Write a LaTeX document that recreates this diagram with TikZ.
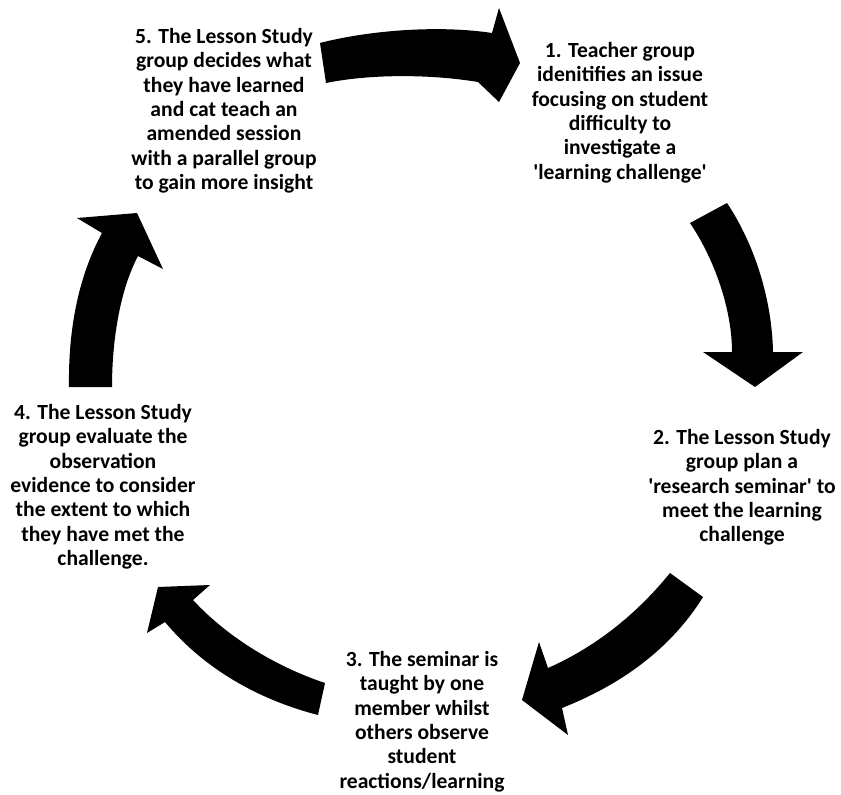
\documentclass[tikz,border=0pt]{standalone}
\usepackage{fontspec}
\setmainfont{Carlito}
\newcommand{\sq}{\textquotesingle}
\begin{document}
\begin{tikzpicture}[x=1pt,y=-1pt,
  step text/.style={anchor=north,align=center,inner sep=0pt,
    font=\fontsize{21.6}{24.4}\selectfont\bfseries},
  bigarrow/.style={fill=black,draw=none}]
\useasboundingbox (0,0) rectangle (841,795);
% texts
\node[step text] (s5) at (224,28) {5. The Lesson Study\\group decides what\\they have learned\\and cat teach an\\amended session\\with a parallel group\\to gain more insight};
\node[step text] (s1) at (620,42) {1. Teacher group\\idenitifies an issue\\focusing on student\\difficulty to\\investigate a\\\sq learning challenge\sq};
\node[step text] (s2) at (742,429) {2. The Lesson Study\\group plan a\\\sq research seminar\sq{} to\\meet the learning\\challenge};
\node[step text] (s3) at (422,651) {3. The seminar is\\taught by one\\member whilst\\others observe\\student\\reactions/learning};
\node[step text] (s4) at (103,404) {4. The Lesson Study\\group evaluate the\\observation\\evidence to consider\\the extent to which\\they have met the\\challenge.};
% arrow 5 -> 1
\fill[bigarrow] (320,43) .. controls (370,30) and (440,25) .. (492,33)
  -- (499,8) -- (520,63) -- (499,102) -- (478,82)
  .. controls (430,74) and (370,74) .. (326,83) -- cycle;
% arrow 1 -> 2
\fill[bigarrow] (690,223) .. controls (715,260) and (732,310) .. (732,352)
  -- (703,352) -- (755,387) -- (803,352) -- (773,352)
  .. controls (772,300) and (755,245) .. (727,203) -- cycle;
% arrow 2 -> 3
\fill[bigarrow] (670,573) .. controls (640,610) and (600,645) .. (548,668)
  -- (539,642) -- (522,700) -- (568,735) -- (562,708)
  .. controls (620,685) and (670,650) .. (703,597) -- cycle;
% arrow 3 -> 4
\fill[bigarrow] (325,683) .. controls (280,668) and (230,640) .. (193,600)
  -- (210,585) -- (158,587) -- (147,633) -- (165,622)
  .. controls (205,670) and (260,700) .. (318,715) -- cycle;
% arrow 4 -> 5
\fill[bigarrow] (69,387) .. controls (68,320) and (82,270) .. (102,233)
  -- (77,218) -- (137,213) -- (163,269) -- (138,256)
  .. controls (120,290) and (112,340) .. (112,387) -- cycle;
\end{tikzpicture}
\end{document}
